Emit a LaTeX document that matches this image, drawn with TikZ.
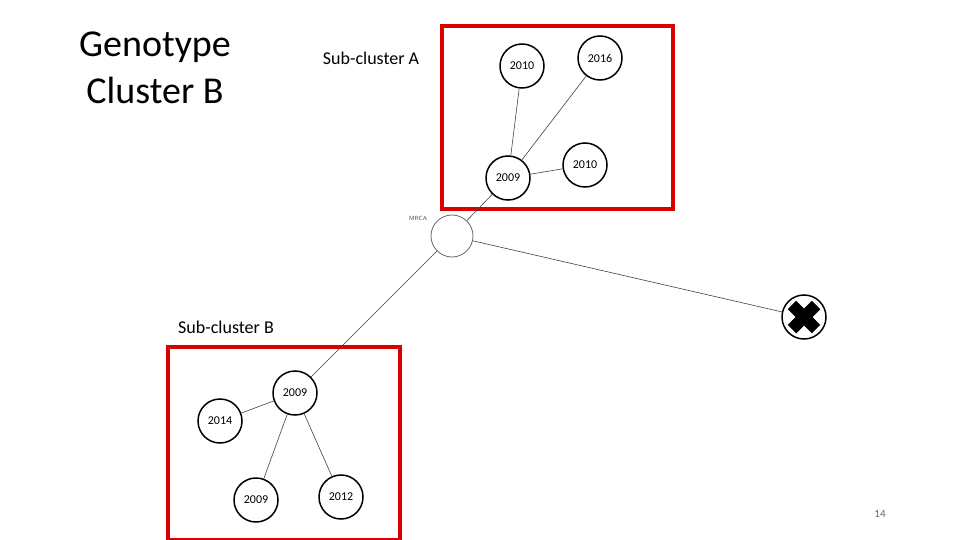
\documentclass[tikz,border=0pt]{standalone}
\usepackage{fontspec}
\setmainfont{Carlito}
\begin{document}
\begin{tikzpicture}[x=1pt,y=-1pt,
  yr/.style={circle,draw,line width=1.5pt,minimum size=44pt,inner sep=0pt,font=\fontsize{12}{12}\selectfont},
  edge/.style={draw=black!75,line width=0.6pt},
  redbox/.style={draw=red!85!black,line width=3.5pt}]
\useasboundingbox (0,0) rectangle (960,540);
\draw[redbox] (442,26) rectangle (673,209);
\draw[redbox] (168,347) rectangle (400,540);
\node[yr] (a1) at (522,66) {2010};
\node[yr] (a2) at (600,58) {2016};
\node[yr] (a0) at (508,178) {2009};
\node[yr] (a3) at (585,165) {2010};
\node[circle,draw=black!60,line width=0.8pt,minimum size=42pt] (m) at (452,236) {};
\node[font=\fontsize{6}{6}\selectfont\sffamily,text=black!70] (ml) at (418,218) {MRCA};
\node[circle,draw,line width=1.5pt,minimum size=44pt] (x) at (804,317) {};
\fill[rotate around={45:(804,317)}] (798,300) rectangle (810,334) (787,311) rectangle (821,323);
\node[yr] (b0) at (295,393) {2009};
\node[yr] (b1) at (220,421) {2014};
\node[yr] (b2) at (256,500) {2009};
\node[yr] (b3) at (341,497) {2012};
\draw[edge] (a0)--(a1); \draw[edge] (a0)--(a2); \draw[edge] (a0)--(a3);
\draw[edge] (m)--(a0); \draw[edge] (m)--(x); \draw[edge] (m)--(b0);
\draw[edge] (b0)--(b1); \draw[edge] (b0)--(b2); \draw[edge] (b0)--(b3);
\node[align=center,font=\fontsize{38}{47}\selectfont] (t) at (155,68) {Genotype\\Cluster B};
\node[font=\fontsize{18}{18}\selectfont] (sa) at (371,58) {Sub-cluster A};
\node[font=\fontsize{18}{18}\selectfont] (sb) at (226,327) {Sub-cluster B};
\node[font=\fontsize{11}{11}\selectfont,text=black!60] (pg) at (880,514) {14};
\end{tikzpicture}
\end{document}
